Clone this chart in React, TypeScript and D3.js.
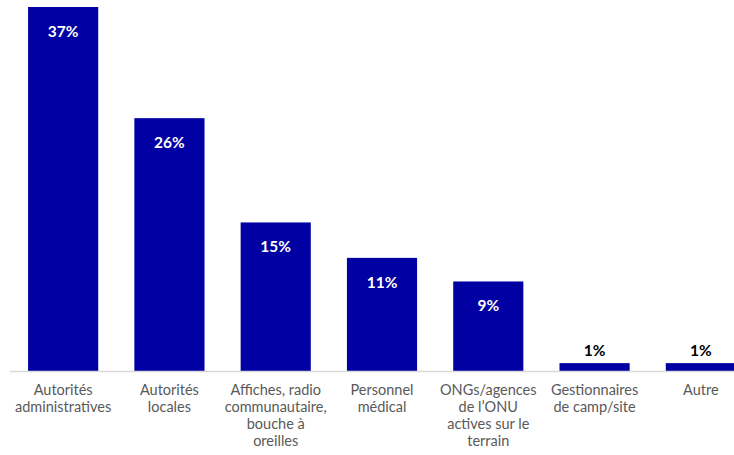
import { useRef, useEffect } from "react";
import * as d3 from "d3";

const categories = [
  ["Autorités", "administratives"],
  ["Autorités", "locales"],
  ["Affiches, radio", "communautaire,", "bouche à", "oreilles"],
  ["Personnel", "médical"],
  ["ONGs/agences", "de l’ONU", "actives sur le", "terrain"],
  ["Gestionnaires", "de camp/site"],
  ["Autre"],
];
// heights as measured from the bars (labels are rounded)
const values = [37, 25.7, 15.1, 11.5, 9.1, 0.8, 0.8];
const valueLabels = ["37%", "26%", "15%", "11%", "9%", "1%", "1%"];

const width = 734;
const height = 455;
const barColor = "#0000A3";
const font = "Lato, 'Open Sans', sans-serif";

export default function App() {
  const svgRef = useRef<SVGSVGElement>(null);

  useEffect(() => {
    if (!svgRef.current) return;
    const svg = d3.select(svgRef.current);
    svg.selectAll("*").remove();

    const baseY = 371;
    const idx = values.map((_, i) => String(i));

    const x = d3.scaleBand<string>().domain(idx).range([10, 754]).paddingInner(0.34).paddingOuter(0.17);
    const y = d3.scaleLinear().domain([0, 37]).range([baseY, 7]);

    // bars
    svg
      .selectAll("rect.bar")
      .data(values)
      .enter()
      .append("rect")
      .attr("class", "bar")
      .attr("x", (_, i) => x(String(i)) as number)
      .attr("y", (d) => y(d))
      .attr("width", x.bandwidth())
      .attr("height", (d) => baseY - y(d))
      .attr("fill", barColor);

    // axis line
    svg
      .append("line")
      .attr("x1", 10)
      .attr("x2", width)
      .attr("y1", baseY + 0.5)
      .attr("y2", baseY + 0.5)
      .attr("stroke", "#d9d9d9")
      .attr("stroke-width", 1.5);

    // value labels
    svg
      .selectAll("text.val")
      .data(values)
      .enter()
      .append("text")
      .attr("class", "val")
      .attr("x", (_, i) => (x(String(i)) as number) + x.bandwidth() / 2)
      .attr("y", (d) => (d > 3 ? y(d) + 30 : y(d) - 7))
      .attr("text-anchor", "middle")
      .attr("font-family", font)
      .attr("font-weight", "bold")
      .attr("font-size", 15.5)
      .attr("fill", (d) => (d > 3 ? "#ffffff" : "#000000"))
      .text((_, i) => valueLabels[i]);

    // category labels
    const cat = svg
      .selectAll("text.cat")
      .data(categories)
      .enter()
      .append("text")
      .attr("class", "cat")
      .attr("text-anchor", "middle")
      .attr("font-family", font)
      .attr("font-size", 14.5)
      .attr("fill", "#595959");
    cat
      .selectAll("tspan")
      .data((d, i) => d.map((line) => ({ line, i })))
      .enter()
      .append("tspan")
      .attr("x", (d) => (x(String(d.i)) as number) + x.bandwidth() / 2)
      .attr("y", (_, j) => 395 + j * 17)
      .text((d) => d.line);
  }, []);

  return (
    <div style={{ position: "absolute", left: 0, top: 0 }}>
      <svg ref={svgRef} width={width} height={height} style={{ display: "block" }} />
    </div>
  );
}
